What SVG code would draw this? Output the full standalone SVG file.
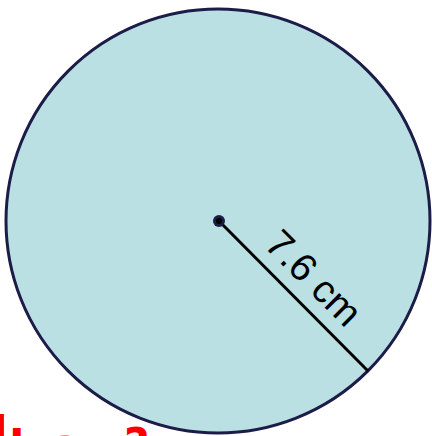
<svg xmlns="http://www.w3.org/2000/svg" width="432" height="436" viewBox="0 0 432 436">
<style>
.lbl{font-family:"Liberation Sans",Arial,sans-serif;font-size:39px;fill:#000}
.hand{font-family:"DejaVu Sans",sans-serif;font-size:44px;font-weight:bold;fill:#ff0000}
</style>
<rect width="432" height="436" fill="#ffffff"/>
<g id="circle">
<circle cx="218" cy="221" r="212" fill="#bae0e3" stroke="#1c1c48" stroke-width="3"/>
</g>
<g id="connectors">
<line x1="219" y1="221" x2="368" y2="371" stroke="#000" stroke-width="3"/>
</g>
<g id="center">
<circle cx="219" cy="221" r="6" fill="#1c1c48"/>
<circle cx="219" cy="221" r="3" fill="#000"/>
</g>
<g id="label">
<text class="lbl" x="263" y="246" transform="rotate(45 263 246)">7.6 cm</text>
</g>
<g id="note">
<text class="hand"><tspan x="-34" y="460" font-size="60">d</tspan><tspan x="8" y="452">:</tspan><tspan x="52" y="460">a</tspan><tspan x="94" y="460">=</tspan><tspan x="124" y="460">?</tspan></text>
</g>
</svg>
